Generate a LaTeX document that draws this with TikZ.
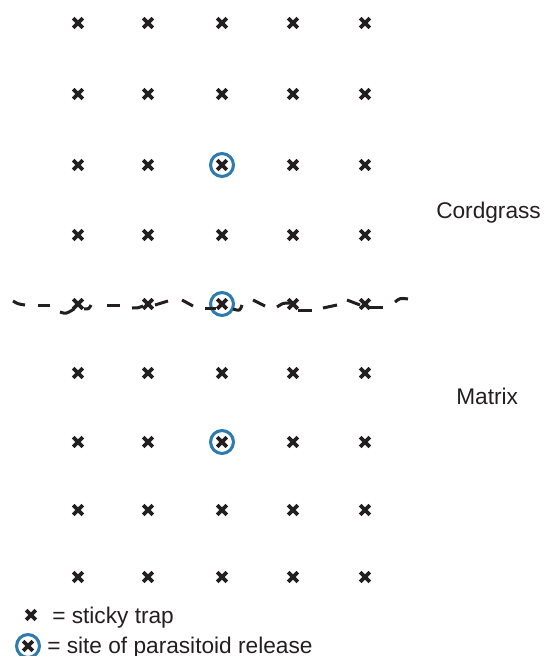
\documentclass[tikz,border=0pt]{standalone}
\usepackage{fontspec}
\setmainfont{Liberation Sans}
\usetikzlibrary{shapes.misc}
\definecolor{ink}{RGB}{35,31,32}
\definecolor{releaseblue}{RGB}{46,124,175}
\tikzset{
  trap/.style={cross out, draw=ink, line width=2.7pt, minimum size=7.2pt, inner sep=0pt, outer sep=0pt},
  release/.style={circle, draw=releaseblue, line width=2.3pt, minimum size=17.2pt, inner sep=0pt},
  label/.style={font=\fontsize{17}{20}\selectfont, text=ink, inner sep=0pt},
  border/.style={draw=ink, line width=2.25pt}
}
\begin{document}
\begin{tikzpicture}[x=0.75pt,y=-0.75pt]
\useasboundingbox (0,0) rectangle (544,656);
% grid of sticky traps
\foreach \c/\x in {1/78,2/148,3/222,4/293,5/365}{
  \foreach \r/\y in {1/23,2/94,3/165,4/235,5/304,6/373,7/442,8/510,9/577}{
    \node[trap] (t-\r-\c) at (\x,\y) {};
  }
}
% release sites
\node[release] (rel-3) at (t-3-3) {};
\node[release] (rel-5) at (t-5-3) {};
\node[release] (rel-7) at (t-7-3) {};
% habitat boundary (dashed, irregular)
\draw[border] (13,301) .. controls (18,304) .. (25,305);
\draw[border] (38,305) -- (50,305);
\draw[border] (60,312) .. controls (66,314) .. (74,309);
\draw[border] (84,309) .. controls (89,309) .. (91,305);
\draw[border] (107,305) -- (120,305);
\draw[border] (132,308) .. controls (138,308) .. (143,306);
\draw[border] (155,305) -- (168,301);
\draw[border] (182,300) -- (193,306);
\draw[border] (205,308) -- (216,308);
\draw[border] (233,309) .. controls (240,311) .. (242,305);
\draw[border] (253,300) -- (265,306);
\draw[border] (277,307) .. controls (283,303) .. (290,303);
\draw[border] (298,310) -- (312,310);
\draw[border] (323,308) -- (337,305);
\draw[border] (347,300) .. controls (353,302) .. (360,305);
\draw[border] (370,307) -- (383,307);
\draw[border] (395,302) .. controls (400,298) .. (408,299);
% habitat labels
\node[label, anchor=base west] (cord) at (436,218) {Cordgrass};
\node[label, anchor=base west] (matrix) at (456,404) {Matrix};
% legend
\node[trap] (lx) at (31,615) {};
\node[label, anchor=base west] (ltext1) at (52,623) {= sticky trap};
\node[trap] (lx2) at (28,646) {};
\node[release] (lrel) at (lx2) {};
\node[label, anchor=base west] (ltext2) at (47,653) {= site of parasitoid release};
\end{tikzpicture}
\end{document}
